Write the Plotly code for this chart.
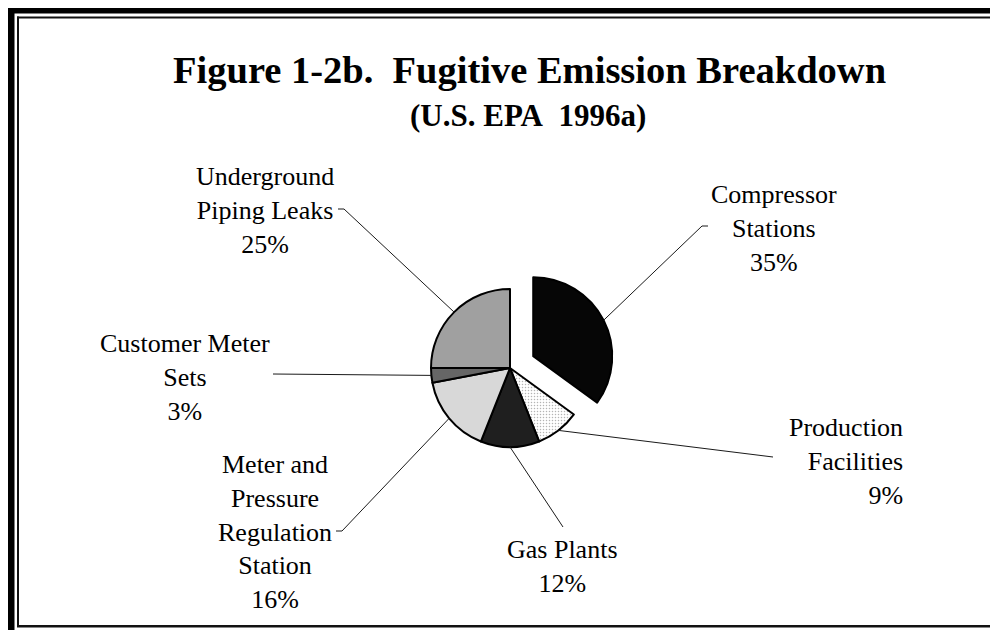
import math
import plotly.graph_objects as go

# ---- data ----
categories = ["Compressor Stations", "Production Facilities", "Gas Plants",
              "Meter and Pressure Regulation Station", "Customer Meter Sets",
              "Underground Piping Leaks"]
values = [35, 9, 12, 16, 3, 25]
label_lines = [["Compressor", "Stations"],
               ["Production", "Facilities"],
               ["Gas Plants"],
               ["Meter and", "Pressure", "Regulation", "Station"],
               ["Customer Meter", "Sets"],
               ["Underground", "Piping Leaks"]]
pulls = [0.33, 0, 0, 0, 0, 0]
title_text = "Figure 1-2b.\u00a0\u00a0Fugitive Emission Breakdown"
subtitle_text = "(U.S. EPA\u00a0\u00a01996a)"

# ---- style / layout ----
colors = ["#060606", "#ffffff", "#1f1f1f", "#d8d8d8", "#666666", "#a0a0a0"]
W, H = 998, 630
OFF = 8                      # page offset of the figure (body margin)
CX, CY, R = 510, 368, 79     # page pixel coords of pie centre, radius
FONT = "Liberation Serif"

# label placement (page pixels): x, y of middle of text block, align
label_pos = [
    (774, 228, "center"),
    (905, 461, "right"),
    (562, 566, "center"),
    (275, 532, "center"),
    (185, 377, "center"),
    (265, 210, "center"),
]
# leader line label-side points (page pixels)
leader_ends = [
    [(702, 226), (708, 226)],
    [(773, 457)],
    [(563, 527)],
    [(342, 531), (336, 531)],
    [(273, 374)],
    [(344, 209), (338, 209)],
]

half = R * (1 + max(pulls))
fx, fy = CX - OFF, CY - OFF
fig = go.Figure()
fig.add_trace(go.Pie(
    labels=categories, values=values, sort=False, direction="clockwise",
    rotation=0, pull=pulls, textinfo="none", hoverinfo="label+percent",
    showlegend=False,
    marker=dict(colors=colors, line=dict(color="#000000", width=2),
                pattern=dict(shape=["", ".", "", "", "", ""],
                             fgcolor="#b4b4b4", size=3, solidity=0.2)),
    domain=dict(x=[(fx - half) / W, (fx + half) / W],
                y=[(H - fy - half) / H, (H - fy + half) / H]),
))

shapes = []
def rect(x0, y0, x1, y1, color):
    shapes.append(dict(type="rect", xref="x", yref="y", x0=x0, y0=y0, x1=x1, y1=y1,
                       fillcolor=color, line=dict(width=0), layer="above"))

# frame (double border)
rect(7, 7, W + 20, 13.5, "#000000")
rect(7, 7, 14.5, H + 20, "#000000")
rect(17, 16.5, W + 20, 18.5, "#111111")
rect(17, 16.5, 19, 627, "#111111")
rect(17, 625, W + 20, 627.5, "#111111")

# leader lines from slice edges (computed from data)
total = sum(values)
cum = 0
annotations = []
for i, v in enumerate(values):
    mid = (cum + v / 2) / total * 2 * math.pi
    cum += v
    dx, dy = math.sin(mid), -math.cos(mid)
    off = pulls[i] * R
    ex = CX + (off + R) * dx
    ey = CY + (off + R) * dy
    pts = [(ex, ey)] + leader_ends[i]
    path = "M " + " L ".join(f"{x:.1f},{y:.1f}" for x, y in pts)
    shapes.append(dict(type="path", xref="x", yref="y", path=path,
                       line=dict(color="#1a1a1a", width=1)))
    lx, ly, al = label_pos[i]
    txt = "<br>".join(label_lines[i] + [f"{v}%"])
    annotations.append(dict(x=lx, y=ly, xref="x", yref="y", text=txt,
                            showarrow=False, xanchor=("right" if al == "right" else "center"),
                            yanchor="middle", align=al,
                            font=dict(family=FONT, size=26, color="#000000")))

annotations.append(dict(x=529, y=70, xref="x", yref="y", text=f"<b>{title_text}</b>",
                        showarrow=False, xanchor="center", yanchor="middle",
                        font=dict(family=FONT, size=38.5, color="#000000")))
annotations.append(dict(x=528, y=115, xref="x", yref="y", text=f"<b>{subtitle_text}</b>",
                        showarrow=False, xanchor="center", yanchor="middle",
                        font=dict(family=FONT, size=31, color="#000000")))

fig.update_layout(
    width=W, height=H, margin=dict(l=0, r=0, t=0, b=0),
    paper_bgcolor="#ffffff", plot_bgcolor="rgba(0,0,0,0)",
    xaxis=dict(range=[OFF, W + OFF], visible=False, fixedrange=True),
    yaxis=dict(range=[H + OFF, OFF], visible=False, fixedrange=True),
    shapes=shapes, annotations=annotations,
)
fig.write_html("out.html")
